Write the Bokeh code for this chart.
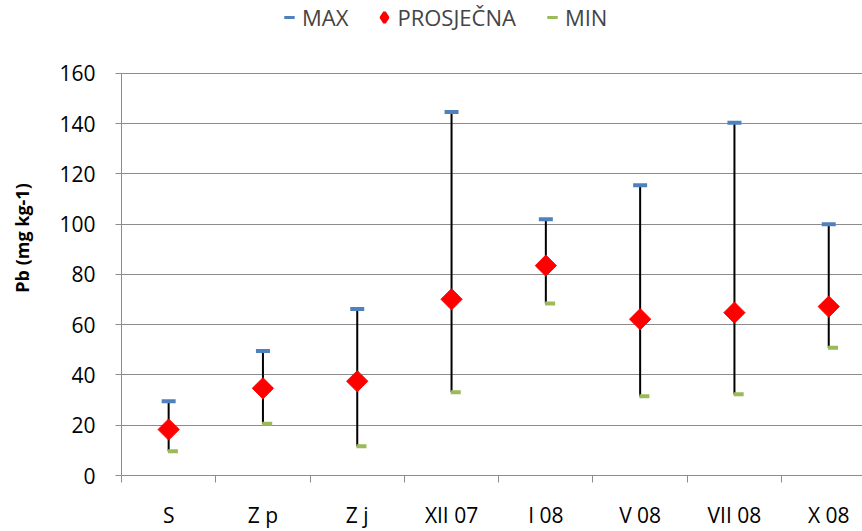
import math
from bokeh.plotting import figure
from bokeh.models import Range1d, FixedTicker, Legend, LegendItem, ColumnDataSource
from bokeh.transform import dodge
from bokeh.embed import file_html
from bokeh.resources import INLINE

categories = ["S", "Z p", "Z j", "XII 07", "I 08", "V 08", "VII 08", "X 08"]
max_vals = [29.5, 49.5, 66.2, 144.6, 102.0, 115.5, 140.3, 100.0]
mean_vals = [18.3, 34.7, 37.5, 70.1, 83.5, 62.2, 64.8, 67.2]
min_vals = [9.6, 20.6, 11.6, 33.1, 68.4, 31.5, 32.3, 50.8]
y_ticks = [0, 20, 40, 60, 80, 100, 120, 140, 160]

FONT = "Open Sans"
GRAY = "#8c8c8c"

# frame covers the full height so the legend (inside the frame) sits above the 0-160 axis
Y_TOP = 160 * 476 / 403

xs = [i + 0.5 for i in range(len(categories))]
src = ColumnDataSource(dict(x=xs, hi=max_vals, mean=mean_vals, lo=min_vals))

p = figure(width=862, height=531, output_backend="svg", toolbar_location=None,
           x_range=Range1d(0, 7.858), y_range=Range1d(0, Y_TOP),
           min_border_left=121, min_border_right=0, min_border_top=0, min_border_bottom=55)
p.outline_line_color = None
p.background_fill_color = "white"

# grid
p.xgrid.visible = False
p.ygrid.ticker = FixedTicker(ticks=y_ticks)
p.ygrid.grid_line_color = GRAY
p.ygrid.grid_line_width = 1

# y axis
p.yaxis.ticker = FixedTicker(ticks=y_ticks, minor_ticks=[])
p.yaxis.bounds = (0, 160)
p.yaxis.axis_line_color = GRAY
p.yaxis.major_tick_line_color = GRAY
p.yaxis.major_tick_out = 6
p.yaxis.major_tick_in = 0
p.yaxis.minor_tick_line_color = None
p.yaxis.major_label_text_font = FONT
p.yaxis.major_label_text_font_size = "21px"
p.yaxis.major_label_text_color = "black"
p.yaxis.major_label_standoff = 20
p.yaxis.axis_label = "Pb (mg kg-1)"
p.yaxis.axis_label_text_font = FONT
p.yaxis.axis_label_text_font_style = "bold"
p.yaxis.axis_label_text_font_size = "18px"
p.yaxis.axis_label_text_color = "black"
p.yaxis.axis_label_standoff = 22

# x axis
p.xaxis.ticker = FixedTicker(ticks=xs, minor_ticks=list(range(len(categories) + 1)))
p.xaxis.major_label_overrides = {x: c for x, c in zip(xs, categories)}
p.xaxis.axis_line_color = GRAY
p.xaxis.major_tick_line_color = None
p.xaxis.major_tick_out = 0
p.xaxis.major_tick_in = 0
p.xaxis.minor_tick_line_color = GRAY
p.xaxis.minor_tick_out = 7
p.xaxis.minor_tick_in = 0
p.xaxis.major_label_text_font = FONT
p.xaxis.major_label_text_font_size = "21px"
p.xaxis.major_label_text_color = "black"
p.xaxis.major_label_standoff = 18

# range lines
p.segment(x0="x", y0="lo", x1="x", y1="hi", line_color="black", line_width=2, source=src)

r_max = p.scatter(x="x", y="hi", marker="dash", size=14, line_color="#4F81BD",
                  line_width=4, source=src)
r_min = p.scatter(x=dodge("x", 0.045, range=p.x_range), y="lo", marker="dash", size=10,
                  line_color="#9BBB59", line_width=4, source=src)
r_mean = p.scatter(x="x", y="mean", marker="square", angle=math.pi / 4, size=15,
                   fill_color="#FF0000", line_color="#FF0000", line_width=1, source=src)
# hidden renderers used only for legend swatches
leg_max = p.scatter(x="x", y="hi", marker="dash", line_color="#4F81BD", line_width=3,
                    source=src, visible=False)
leg_mean = p.scatter(x="x", y="mean", marker="diamond", fill_color="#FF0000",
                     line_color="#FF0000", line_width=3, source=src, visible=False)
leg_min = p.scatter(x="x", y="lo", marker="dash", line_color="#9BBB59", line_width=3,
                    source=src, visible=False)

legend = Legend(items=[LegendItem(label="MAX", renderers=[leg_max]),
                       LegendItem(label="PROSJEČNA", renderers=[leg_mean]),
                       LegendItem(label="MIN", renderers=[leg_min])],
                orientation="horizontal", location=(155, 443),
                padding=0, margin=0, spacing=23, label_standoff=0,
                glyph_width=26, glyph_height=30, label_height=24,
                label_text_font=FONT, label_text_font_size="22px",
                border_line_color=None, background_fill_alpha=0)
p.add_layout(legend)

open("out.html", "w").write(file_html(p, INLINE))
